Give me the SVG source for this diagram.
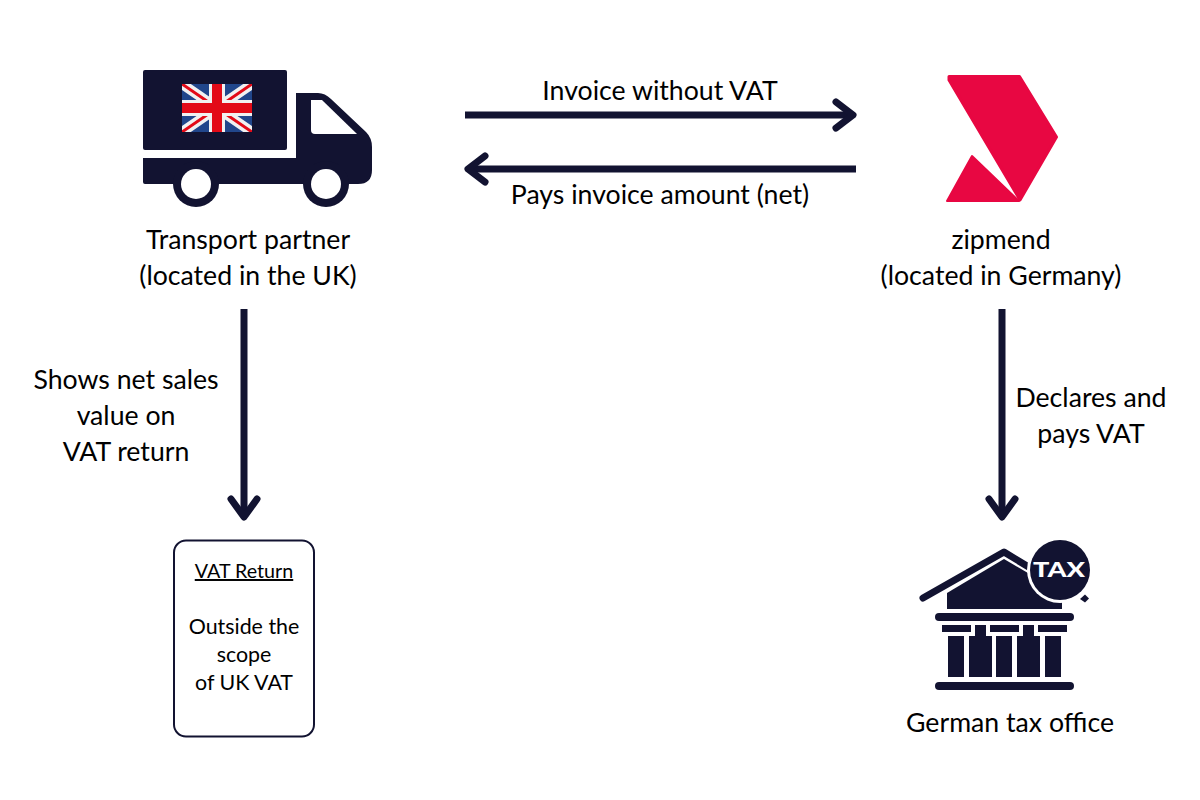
<svg xmlns="http://www.w3.org/2000/svg" width="1200" height="800" viewBox="0 0 1200 800">
<style>
text{font-family:Lato,"Liberation Sans",sans-serif;fill:#000;text-anchor:middle}
.l{font-size:26.67px}
.s{font-size:21.4px}
.c{fill:none;stroke:#121331;stroke-width:7}
.h{fill:none;stroke:#121331;stroke-width:7;stroke-linecap:round;stroke-linejoin:round}
.d{fill:#121331}
</style>
<defs><clipPath id="fc"><rect x="182" y="84" width="70" height="48"/></clipPath></defs>
<rect width="1200" height="800" fill="#fff"/>
<g id="connectors">
<path class="c" d="M465 115H852"/><path class="h" d="M836 102L853 115L836 128"/>
<path class="c" d="M856 169H469"/><path class="h" d="M485 156L468 169L485 182"/>
<path class="c" d="M244 309V516"/><path class="h" d="M231 499L244 517L257 499"/>
<path class="c" d="M1002 309V516"/><path class="h" d="M989 499L1002 517L1015 499"/>
</g>
<g id="truck">
<rect class="d" x="143" y="70" width="144" height="80" rx="2"/>
<path class="d" d="M143 158H296V93H318Q325 93 331 99L366 132Q372 138 372 147V170Q372 184 358 184H145Q143 184 143 182Z"/>
<path fill="#fff" d="M311 100H322L357 134H315Q311 134 311 130Z"/>
<circle class="d" cx="196" cy="184" r="23"/><circle fill="#fff" cx="196" cy="184" r="15"/>
<circle class="d" cx="326" cy="184" r="23"/><circle fill="#fff" cx="326" cy="184" r="15"/>
<g id="flag" clip-path="url(#fc)">
<rect x="182" y="84" width="70" height="48" fill="#21468B"/>
<path d="M182 84L252 132M252 84L182 132" stroke="#f1f1f1" stroke-width="10"/>
<path d="M182 84L252 132M252 84L182 132" stroke="#e30a17" stroke-width="3"/>
<rect x="182" y="100" width="70" height="16" fill="#f1f1f1"/><rect x="209" y="84" width="16" height="48" fill="#f1f1f1"/>
<rect x="182" y="103" width="70" height="10" fill="#e30a17"/><rect x="212" y="84" width="10" height="48" fill="#e30a17"/>
</g>
<text class="l" x="248" y="249">Transport partner</text>
<text class="l" x="248" y="285">(located in the UK)</text>
</g>
<g id="zipmend">
<path fill="#E80742" stroke="#E80742" stroke-width="3" stroke-linejoin="round" d="M949 76.500H1019.500L1056.500 137L1020 200L949 80Z"/>
<path fill="#E80742" stroke="#E80742" stroke-width="2" stroke-linejoin="round" d="M972 156L1019 201H947Z"/>
<text class="l" x="1001" y="249">zipmend</text>
<text class="l" x="1001" y="285">(located in Germany)</text>
</g>
<g id="tax-office">
<path class="d" d="M947 609V593L1004 559L1062 593V609Z"/>
<path class="h" d="M923 598L1004 552L1032 569"/>
<circle fill="#fff" cx="1060" cy="570" r="33"/>
<circle class="d" cx="1060" cy="570" r="30"/>
<path class="d" d="M1080 599L1085 594.500L1089 598.500L1085 602.500Z"/>
<text x="1059" y="577" textLength="52" lengthAdjust="spacingAndGlyphs" style="fill:#fff;font-size:21px;font-weight:900">TAX</text>
<rect class="d" x="935" y="613" width="139" height="8" rx="4"/>
<rect class="d" x="942" y="625" width="29" height="7"/><rect class="d" x="990" y="625" width="29" height="7"/><rect class="d" x="1038" y="625" width="29" height="7"/>
<rect class="d" x="948" y="636" width="16" height="41"/>
<path class="d" d="M975 625H986V636H992V677H969V636H975Z"/>
<rect class="d" x="996" y="636" width="16" height="41"/>
<path class="d" d="M1023 625H1034V636H1040V677H1017V636H1023Z"/>
<rect class="d" x="1045" y="636" width="16" height="41"/>
<rect class="d" x="935" y="682" width="139" height="8" rx="4"/>
<text class="l" x="1010" y="732">German tax office</text>
</g>
<g id="vat-return">
<rect x="174" y="540.500" width="140" height="196" rx="12" fill="#fff" stroke="#121331" stroke-width="2"/>
<text x="244" y="578" text-decoration="underline" style="font-size:19.700px">VAT Return</text>
<text class="s" x="244" y="634">Outside the</text>
<text class="s" x="244" y="662">scope</text>
<text class="s" x="244" y="690">of UK VAT</text>
</g>
<g id="labels">
<text class="l" x="660" y="100">Invoice without VAT</text>
<text class="l" x="660" y="204">Pays invoice amount (net)</text>
<text class="l" x="126" y="389">Shows net sales</text>
<text class="l" x="126" y="425">value on</text>
<text class="l" x="126" y="461">VAT return</text>
<text class="l" x="1091" y="407">Declares and</text>
<text class="l" x="1091" y="443">pays VAT</text>
</g>
</svg>
